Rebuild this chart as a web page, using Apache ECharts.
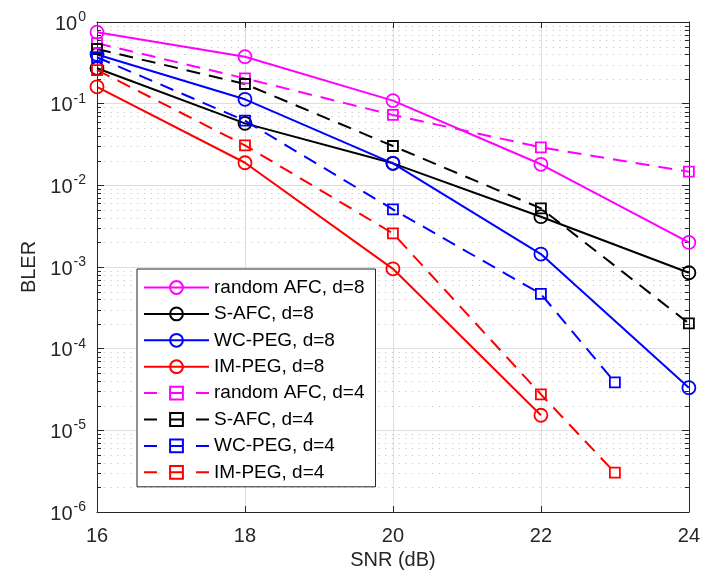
<!DOCTYPE html>
<html>
<head>
<meta charset="utf-8">
<script src="https://cdn.jsdelivr.net/npm/echarts@6/dist/echarts.min.js"></script>
<style>
html,body{margin:0;padding:0;background:#fff;}
#c{width:703px;height:581px;}
</style>
</head>
<body>
<div id="c"></div>
<script>
// ---- data ----
const snrD8 = [16, 18, 20, 22, 24];
const snrIMd8 = [16, 18, 20, 22];
const snrD4 = [16, 18, 20, 22, 24];
const snrPEGd4 = [16, 18, 20, 22, 23];

const randomAFC_d8 = [0.75, 0.376, 0.109, 0.0181, 0.0020];
const SAFC_d8      = [0.271, 0.0574, 0.0186, 0.00413, 0.00085];
const WCPEG_d8     = [0.40, 0.113, 0.0186, 0.00144, 3.33e-5];
const IMPEG_d8     = [0.161, 0.0189, 0.00095, 1.53e-5];
const randomAFC_d4 = [0.55, 0.204, 0.0727, 0.0292, 0.0147];
const SAFC_d4      = [0.467, 0.174, 0.0303, 0.00523, 0.000204];
const WCPEG_d4     = [0.37, 0.0619, 0.00508, 0.000468, 3.87e-5];
const IMPEG_d4     = [0.258, 0.0309, 0.00258, 2.76e-5, 3.03e-6];

const xTicks = [16, 18, 20, 22, 24];

// minor tick values (2..9 x 10^k)
const minorVals = [];
for (let k = -6; k <= -1; k++) {
  for (let m = 2; m <= 9; m++) minorVals.push(m * Math.pow(10, k));
}

const FONT = '"Liberation Sans", Arial, Helvetica, sans-serif';
const AXC = '#262626';

function mk(name, xs, ys, color, circle, dashed) {
  return {
    type: 'line',
    name: name,
    data: xs.map((x, i) => [x, ys[i]]),
    symbol: circle ? 'circle' : 'rect',
    symbolSize: circle ? 13 : 10,
    showAllSymbol: true,
    lineStyle: { color: color, width: 2, type: dashed ? [14, 9] : 'solid' },
    itemStyle: { color: 'rgba(0,0,0,0)', borderColor: color, borderWidth: 1.8 },
    emphasis: { disabled: true },
    z: 3,
    animation: false
  };
}

const seriesDefs = [
  ['random AFC, d=8', snrD8, randomAFC_d8, '#ff00ff', true, false],
  ['S-AFC, d=8', snrD8, SAFC_d8, '#000000', true, false],
  ['WC-PEG, d=8', snrD8, WCPEG_d8, '#0000ff', true, false],
  ['IM-PEG, d=8', snrIMd8, IMPEG_d8, '#ff0000', true, false],
  ['random AFC, d=4', snrD4, randomAFC_d4, '#ff00ff', false, true],
  ['S-AFC, d=4', snrD4, SAFC_d4, '#000000', false, true],
  ['WC-PEG, d=4', snrPEGd4, WCPEG_d4, '#0000ff', false, true],
  ['IM-PEG, d=4', snrPEGd4, IMPEG_d4, '#ff0000', false, true]
];

const series = seriesDefs.map(d => mk(d[0], d[1], d[2], d[3], d[4], d[5]));

series.unshift({
  type: 'custom',
  name: 'minor',
  silent: true,
  z: 1,
  animation: false,
  data: minorVals.map(v => [16, v]),
  renderItem: function (params, api) {
    const y = Math.round(api.coord([16, api.value(1)])[1]) + 0.5;
    const cs = params.coordSys;
    return {
      type: 'group',
      children: [
        { type: 'line', shape: { x1: cs.x, y1: y, x2: cs.x + cs.width, y2: y },
          style: { stroke: '#c8c8c8', lineWidth: 1, lineDash: [1.2, 5.5] } },
        { type: 'line', shape: { x1: cs.x, y1: y, x2: cs.x + 4, y2: y },
          style: { stroke: AXC, lineWidth: 1 } },
        { type: 'line', shape: { x1: cs.x + cs.width - 4, y1: y, x2: cs.x + cs.width, y2: y },
          style: { stroke: AXC, lineWidth: 1 } }
      ]
    };
  }
});

const legendData = seriesDefs.map(d => ({
  name: d[0],
  lineStyle: { type: d[5] ? [13, 13] : 'solid', width: 2, color: d[3] }
}));

const chart = echarts.init(document.getElementById('c'), null, { renderer: 'canvas' });
chart.setOption({
  animation: false,
  backgroundColor: '#ffffff',
  textStyle: { fontFamily: FONT },
  grid: { left: 97, right: 10, top: 22, bottom: 69, containLabel: false },
  legend: {
    orient: 'vertical',
    left: 137,
    top: 269,
    data: legendData,
    itemWidth: 65,
    itemHeight: 16,
    itemGap: 7.4,
    padding: [9, 11, 5, 6],
    backgroundColor: '#ffffff',
    borderColor: AXC,
    borderWidth: 1,
    borderRadius: 0,
    selectedMode: false,
    textStyle: { fontSize: 19, color: '#000', fontFamily: FONT }
  },
  xAxis: [{
    type: 'value',
    min: 16, max: 24, interval: 2,
    name: 'SNR (dB)',
    nameLocation: 'middle',
    nameGap: 38,
    nameTextStyle: { fontSize: 20, color: AXC, fontFamily: FONT },
    axisLine: { show: true, onZero: false, lineStyle: { color: AXC, width: 1 } },
    axisTick: { show: true, inside: true, length: 6, lineStyle: { color: AXC } },
    axisLabel: { fontSize: 20, color: AXC, margin: 14, fontFamily: FONT,
      customValues: xTicks },
    splitLine: { show: true, lineStyle: { color: '#dedede', width: 1 } }
  }, {
    type: 'value',
    position: 'top',
    min: 16, max: 24, interval: 2,
    axisLine: { show: true, onZero: false, lineStyle: { color: AXC, width: 1 } },
    axisTick: { show: true, inside: true, length: 6, lineStyle: { color: AXC } },
    axisLabel: { show: false },
    splitLine: { show: false }
  }],
  yAxis: [{
    type: 'log',
    logBase: 10,
    min: 1e-6, max: 1, interval: 1,
    name: 'BLER',
    nameLocation: 'middle',
    nameGap: 58,
    nameTextStyle: { fontSize: 20, color: AXC, fontFamily: FONT },
    axisLine: { show: true, onZero: false, lineStyle: { color: AXC, width: 1 } },
    axisTick: { show: true, inside: true, length: 7, lineStyle: { color: AXC } },
    axisLabel: {
      margin: 11,
      color: AXC,
      fontFamily: FONT,
      formatter: function (v) {
        const e = Math.round(Math.log10(v));
        return '{b|10}{s|' + e + '}';
      },
      rich: {
        b: { fontSize: 20, color: AXC, fontFamily: FONT, verticalAlign: 'bottom' },
        s: { fontSize: 14, color: AXC, fontFamily: FONT, verticalAlign: 'bottom', padding: [0, 0, 10, 1] }
      }
    },
    splitLine: { show: true, lineStyle: { color: '#dedede', width: 1 } }
  }, {
    type: 'log',
    logBase: 10,
    position: 'right',
    min: 1e-6, max: 1, interval: 1,
    axisLine: { show: true, onZero: false, lineStyle: { color: AXC, width: 1 } },
    axisTick: { show: true, inside: true, length: 7, lineStyle: { color: AXC } },
    axisLabel: { show: false },
    splitLine: { show: false }
  }],
  series: series
});
</script>
</body>
</html>
